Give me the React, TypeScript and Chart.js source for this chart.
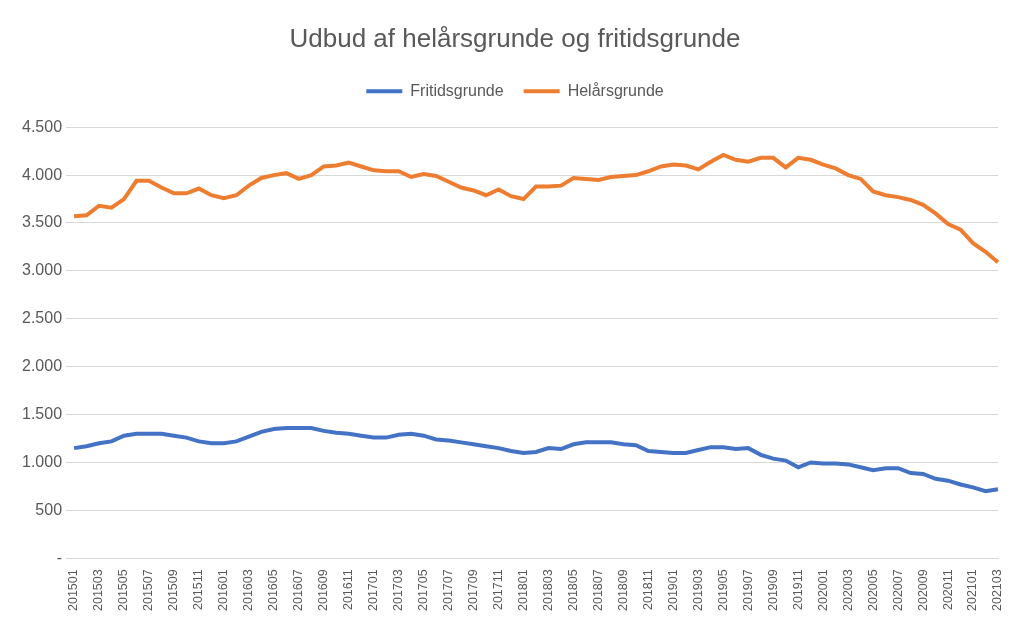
import { useEffect, useRef } from "react";
import Chart from "chart.js/auto";

const months = [
  "201501","201502","201503","201504","201505","201506","201507","201508","201509","201510","201511","201512",
  "201601","201602","201603","201604","201605","201606","201607","201608","201609","201610","201611","201612",
  "201701","201702","201703","201704","201705","201706","201707","201708","201709","201710","201711","201712",
  "201801","201802","201803","201804","201805","201806","201807","201808","201809","201810","201811","201812",
  "201901","201902","201903","201904","201905","201906","201907","201908","201909","201910","201911","201912",
  "202001","202002","202003","202004","202005","202006","202007","202008","202009","202010","202011","202012",
  "202101","202102","202103",
];

const fritidsgrunde = [
  1150, 1170, 1200, 1220, 1280, 1300, 1300, 1300, 1280, 1260,
  1220, 1200, 1200, 1220, 1270, 1320, 1350, 1360, 1360, 1360,
  1330, 1310, 1300, 1280, 1260, 1260, 1290, 1300, 1280, 1240,
  1230, 1210, 1190, 1170, 1150, 1120, 1100, 1110, 1150, 1140,
  1190, 1210, 1210, 1210, 1190, 1180, 1120, 1110, 1100, 1100,
  1130, 1160, 1160, 1140, 1150, 1080, 1040, 1020, 950, 1000,
  990, 990, 980, 950, 920, 940, 940, 890, 880, 830,
  810, 770, 740, 700, 720,
];

const helaarsgrunde = [
  3570, 3580, 3680, 3660, 3750, 3940, 3940, 3870, 3810, 3810,
  3860, 3790, 3760, 3790, 3890, 3970, 4000, 4020, 3960, 4000,
  4090, 4100, 4130, 4090, 4050, 4040, 4040, 3980, 4010, 3990,
  3930, 3870, 3840, 3790, 3850, 3780, 3750, 3880, 3880, 3890,
  3970, 3960, 3950, 3980, 3990, 4000, 4040, 4090, 4110, 4100,
  4060, 4140, 4210, 4160, 4140, 4180, 4180, 4080, 4180, 4160,
  4110, 4070, 4000, 3960, 3830, 3790, 3770, 3740, 3690, 3600,
  3490, 3430, 3290, 3200, 3090,
];

const font = "'Liberation Sans', 'Open Sans', sans-serif";

// extra room under the legend
const legendGap = {
  id: "legendGap",
  beforeInit(chart: any) {
    const orig = chart.legend.fit;
    chart.legend.fit = function () {
      orig.bind(chart.legend)();
      this.height += 18;
    };
  },
};

const App = () => {
  const canvasRef = useRef<HTMLCanvasElement | null>(null);
  const chartRef = useRef<Chart | null>(null);

  useEffect(() => {
    if (chartRef.current) chartRef.current.destroy();
    if (!canvasRef.current) return;
    chartRef.current = new Chart(canvasRef.current, {
      type: "line",
      data: {
        labels: months,
        datasets: [
          {
            label: "Fritidsgrunde",
            data: fritidsgrunde,
            borderColor: "#4472C4",
            backgroundColor: "#4472C4",
            borderWidth: 4,
            pointRadius: 0,
          },
          {
            label: "Helårsgrunde",
            data: helaarsgrunde,
            borderColor: "#ED7D31",
            backgroundColor: "#ED7D31",
            borderWidth: 4,
            pointRadius: 0,
          },
        ],
      },
      options: {
        animation: false,
        responsive: false,
        layout: { padding: { left: 10, right: 4, top: 8, bottom: 2 } },
        plugins: {
          title: {
            display: true,
            text: "Udbud af helårsgrunde og fritidsgrunde",
            color: "#595959",
            font: { family: font, size: 26, weight: "normal" },
            padding: { top: 8, bottom: 8 },
          },
          legend: {
            position: "top",
            labels: {
              color: "#595959",
              font: { family: font, size: 16 },
              boxWidth: 36,
              boxHeight: 0,
              padding: 20,
              generateLabels: (chart) =>
                chart.data.datasets.map((ds, i) => ({
                  text: ds.label as string,
                  strokeStyle: ds.borderColor as string,
                  fillStyle: ds.borderColor as string,
                  lineWidth: 4,
                  datasetIndex: i,
                  fontColor: "#595959",
                })),
            },
          },
          tooltip: { enabled: false },
        },
        scales: {
          x: {
            grid: { display: false },
            border: { color: "#d9d9d9" },
            ticks: {
              autoSkip: false,
              maxRotation: 90,
              minRotation: 90,
              color: "#595959",
              font: { family: font, size: 12.5 },
              callback: (_v, i) => (i % 2 === 0 ? months[i] : ""),
            },
          },
          y: {
            min: 0,
            max: 4500,
            border: { display: false },
            grid: { color: "#d9d9d9" },
            ticks: {
              stepSize: 500,
              padding: 4,
              color: "#595959",
              font: { family: font, size: 16 },
              callback: (v) =>
                Number(v) === 0 ? "-" : Number(v).toLocaleString("en-US").replace(",", "."),
            },
          },
        },
      },
      plugins: [legendGap],
    });
    return () => {
      chartRef.current?.destroy();
      chartRef.current = null;
    };
  }, []);

  return <canvas ref={canvasRef} width={1008} height={608} />;
};

export default App;
